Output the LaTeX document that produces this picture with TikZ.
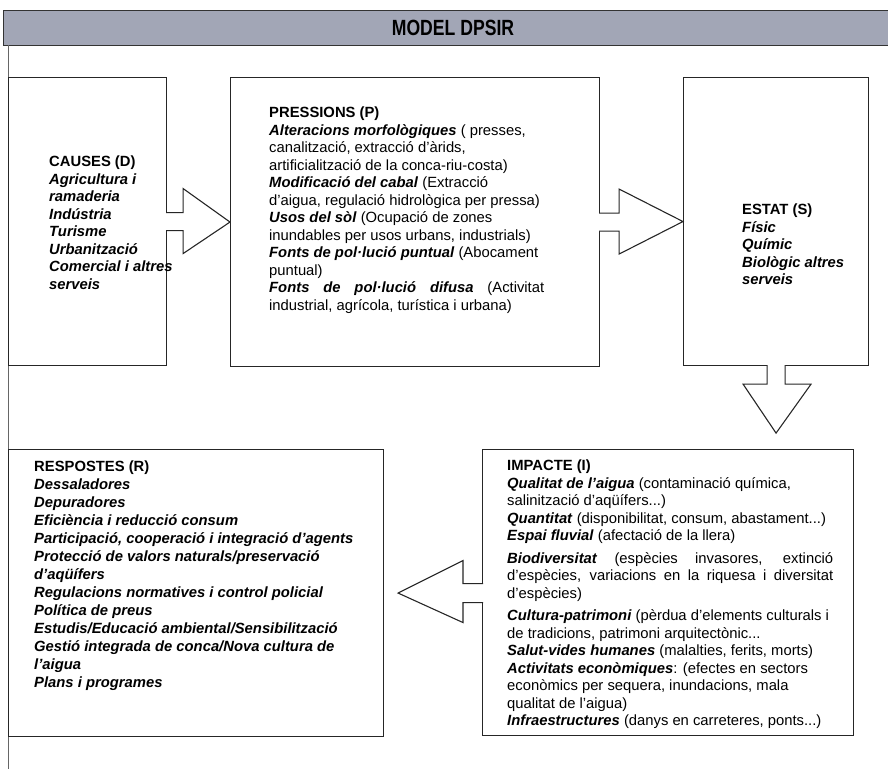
\documentclass[tikz,border=0pt]{standalone}
\usepackage{fontspec}
\setmainfont{Liberation Sans}
\usepackage{graphicx}
\usepackage{xcolor}
\usetikzlibrary{calc}
\definecolor{bargray}{RGB}{162,166,182}
\tikzstyle{panel} = [rectangle, draw=black!85, line width=1.1pt, inner sep=0pt, anchor=north west]
\tikzstyle{txt} = [anchor=north west, inner sep=0pt, align=left, font=\fontsize{14.8}{17.5}\selectfont]
\tikzstyle{blockarrow} = [draw=black!85, line width=1.1pt, fill=white, line join=miter]
\tikzstyle{bar} = [rectangle, draw=black!80, line width=1pt, fill=bargray, inner sep=0pt, anchor=north west]
\newcommand{\bi}[1]{\textbf{\textit{#1}}}

\begin{document}
\begin{tikzpicture}[x=1pt, y=-1pt]
  \useasboundingbox (0,0) rectangle (888,769);
  % title bar and frame
  \node[bar, minimum width=886pt, minimum height=35pt] (title) at (3,10) {};
  \node[font=\fontsize{22}{22}\selectfont\bfseries] (titletext) at (453,28) {\scalebox{0.8}[1]{MODEL DPSIR}};
  \draw[black!60, line width=0.8pt] (8,45) -- (8,769);

  % boxes
  \node[panel, minimum width=158pt, minimum height=288pt] (causes) at (8,77) {};
  \node[panel, minimum width=369pt, minimum height=289pt] (pressions) at (230,77) {};
  \node[panel, minimum width=185pt, minimum height=288pt] (estat) at (683,77) {};
  \node[panel, minimum width=375pt, minimum height=287pt] (respostes) at (8,449) {};
  \node[panel, minimum width=371pt, minimum height=286pt] (impacte) at (482,449) {};

  % texts
  \node[txt] (causestxt) at (49,156) {\textbf{CAUSES (D)}\\
    \bi{Agricultura i}\\ \bi{ramaderia}\\ \bi{Indústria}\\ \bi{Turisme}\\
    \bi{Urbanització}\\ \bi{Comercial i altres}\\ \bi{serveis}};
  \node[txt] (pressionstxt) at (269,107) {\textbf{PRESSIONS (P)}\\
    \bi{Alteracions morfològiques} ( presses,\\
    canalització, extracció d’àrids,\\
    artificialització de la conca-riu-costa)\\
    \bi{Modificació del cabal} (Extracció\\
    d’aigua, regulació hidrològica per pressa)\\
    \bi{Usos del sòl} (Ocupació de zones\\
    inundables per usos urbans, industrials)\\
    \bi{Fonts de pol·lució puntual} (Abocament\\
    puntual)\\
    \makebox[275pt][s]{\bi{Fonts de pol·lució difusa} (Activitat}\\
    industrial, agrícola, turística i urbana)};
  \node[txt] (estattxt) at (742,204) {\textbf{ESTAT (S)}\\
    \bi{Físic}\\ \bi{Químic}\\ \bi{Biològic altres}\\ \bi{serveis}};
  \node[txt, font=\fontsize{14.8}{18}\selectfont] (respostestxt) at (34,461) {\textbf{RESPOSTES (R)}\\
    \bi{Dessaladores}\\
    \bi{Depuradores}\\
    \bi{Eficiència i reducció consum}\\
    \bi{Participació, cooperació i integració d’agents}\\
    \bi{Protecció de valors naturals/preservació}\\
    \bi{d’aqüífers}\\
    \bi{Regulacions normatives i control policial}\\
    \bi{Política de preus}\\
    \bi{Estudis/Educació ambiental/Sensibilització}\\
    \bi{Gestió integrada de conca/Nova cultura de}\\
    \bi{l’aigua}\\
    \bi{Plans i programes}};
  \node[txt] (impactetxt) at (507,460) {\textbf{IMPACTE (I)}\\
    \bi{Qualitat de l’aigua} (contaminació química,\\
    salinització d’aqüífers...)\\
    \bi{Quantitat} (disponibilitat, consum, abastament...)\\
    \bi{Espai fluvial} (afectació de la llera)\\[5pt]
    \makebox[326pt][s]{\bi{Biodiversitat} (espècies invasores, extinció}\\
    \makebox[326pt][s]{d’espècies, variacions en la riquesa i diversitat}\\
    d’espècies)\\[5pt]
    \bi{Cultura-patrimoni} (pèrdua d’elements culturals i\\
    de tradicions, patrimoni arquitectònic...\\
    \bi{Salut-vides humanes} (malalties, ferits, morts)\\
    \bi{Activitats econòmiques}: (efectes en sectors\\
    econòmics per sequera, inundacions, mala\\
    qualitat de l’aigua)\\
    \bi{Infraestructures} (danys en carreteres, ponts...)};

  % block arrows
  \coordinate (downtip) at ($(estat.south)+(0,67)$);
  \coordinate (lefttip) at ($(respostes.east)+(14,0)$);
  \draw[blockarrow] ($(causes.east)+(-1,-9)$) -- ($(causes.east)+(16,-9)$)
    -- ($(causes.east)+(16,-33)$) -- (pressions.west)
    -- ($(causes.east)+(16,32)$) -- ($(causes.east)+(16,9)$) -- ($(causes.east)+(-1,9)$);
  \draw[blockarrow] ($(pressions.east)+(-1,-9)$) -- ($(pressions.east)+(19,-9)$)
    -- ($(pressions.east)+(19,-33)$) -- (estat.west)
    -- ($(pressions.east)+(19,32)$) -- ($(pressions.east)+(19,9)$) -- ($(pressions.east)+(-1,9)$);
  \draw[blockarrow] ($(estat.south)+(-9,-1)$) -- ($(estat.south)+(-9,18)$)
    -- ($(estat.south)+(-33,18)$) -- (downtip)
    -- ($(estat.south)+(35,18)$) -- ($(estat.south)+(9,18)$) -- ($(estat.south)+(9,-1)$);
  \draw[blockarrow] ($(impacte.west)+(1,-9)$) -- ($(impacte.west)+(-19,-9)$)
    -- ($(impacte.west)+(-19,-32)$) -- (lefttip)
    -- ($(impacte.west)+(-19,30)$) -- ($(impacte.west)+(-19,10)$) -- ($(impacte.west)+(1,10)$);
\end{tikzpicture}
\end{document}
